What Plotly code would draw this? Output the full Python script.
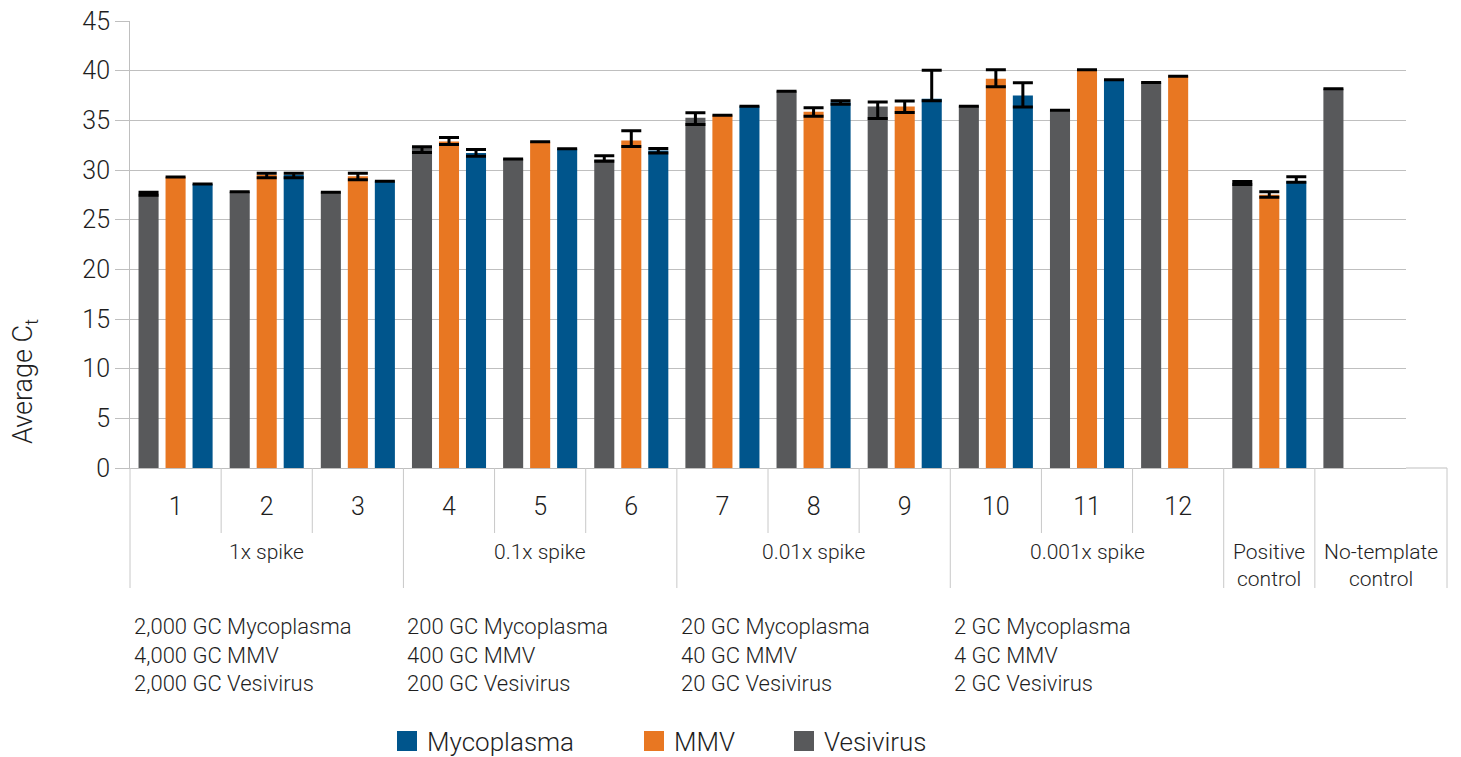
import plotly.graph_objects as go

# ---------------- data ----------------
categories = ["1", "2", "3", "4", "5", "6", "7", "8", "9", "10", "11", "12",
              "Positive control", "No-template control"]
tick_text = ["1", "2", "3", "4", "5", "6", "7", "8", "9", "10", "11", "12"]

group_labels = ["1x spike", "0.1x spike", "0.01x spike", "0.001x spike",
                "Positive<br>control", "No-template<br>control"]
group_first = [0, 3, 6, 9, 12, 13]
group_last = [2, 5, 8, 11, 12, 13]

spike_notes = [
    "2,000 GC Mycoplasma<br>4,000 GC MMV<br>2,000 GC Vesivirus",
    "200 GC Mycoplasma<br>400 GC MMV<br>200 GC Vesivirus",
    "20 GC Mycoplasma<br>40 GC MMV<br>20 GC Vesivirus",
    "2 GC Mycoplasma<br>4 GC MMV<br>2 GC Vesivirus",
]

y_ticks = [0, 5, 10, 15, 20, 25, 30, 35, 40, 45]

vesivirus = [27.6, 27.8, 27.75, 32.3, 31.1, 31.07, 35.27, 37.93, 36.4, 36.42, 36.02, 38.8, 28.7, 38.19]
vesivirus_plus = [0.15, 0, 0, 0.05, 0, 0.37, 0.5, 0, 0.45, 0, 0, 0, 0.15, 0]
vesivirus_minus = [0.15, 0, 0, 0.55, 0, 0.2, 0.7, 0, 1.22, 0, 0, 0, 0.15, 0]

mmv = [29.3, 29.53, 29.36, 32.88, 32.85, 32.98, 35.52, 35.87, 36.4, 39.19, 40.1, 39.45, 27.51, None]
mmv_plus = [0, 0.15, 0.32, 0.39, 0, 0.96, 0, 0.4, 0.55, 0.91, 0, 0, 0.3, None]
mmv_minus = [0, 0.3, 0.33, 0.31, 0, 0.61, 0, 0.45, 0.61, 0.82, 0, 0, 0.25, None]

mycoplasma = [28.6, 29.53, 28.87, 31.71, 32.15, 31.97, 36.42, 36.83, 37.18, 37.51, 39.09, None, 28.87, None]
mycoplasma_plus = [0, 0.15, 0, 0.36, 0, 0.2, 0, 0.15, 2.87, 1.28, 0, None, 0.45, None]
mycoplasma_minus = [0, 0.3, 0, 0.32, 0, 0.25, 0, 0.2, 0.2, 1.16, 0, None, 0.1, None]

# ---------------- layout helpers ----------------
# the page body has an 8px margin, so the figure is placed 8px right/down
OFF = 8
W, H = 1461 - OFF, 757 - OFF
ML, MT = 130 - OFF, 21 - OFF
PW, PH = 1276, 447
MR, MB = W - ML - PW, H - MT - PH
FONT = "Roboto, Liberation Sans, Arial, sans-serif"
FW = 300
TXT = "#1e1e1e"
GRID = "#BFBFBF"
SEP = "#C8C8C8"

C_GRAY, C_ORANGE, C_BLUE = "#58595B", "#E87722", "#00558C"


def px_x(x):  # screen px -> paper
    return (x - OFF - ML) / PW


def px_y(y):
    return (MT + PH - (y - OFF)) / PH


n = len(categories)


def boundary(k):  # paper x of boundary before category k
    return k / n


box_right = px_x(1447)


def fnt(size):
    return dict(size=size, color=TXT, family=FONT, weight=FW)


fig = go.Figure()


def add_series(name, vals, plus, minus, color, legend):
    fig.add_trace(go.Bar(
        name=name, x=categories, y=vals, marker=dict(color=color, line=dict(width=0)),
        showlegend=False, legendgroup=name,
        error_y=dict(type="data", symmetric=False, array=plus, arrayminus=minus,
                     color="#000000", thickness=3, width=10),
    ))
    # legend key (square swatch like the reference)
    fig.add_trace(go.Scatter(
        name=name, x=[None], y=[None], mode="markers", legend=legend, legendgroup=name,
        marker=dict(symbol="square", size=16, color=color, line=dict(color=color, width=4)),
        hoverinfo="skip",
    ))


add_series("Vesivirus", vesivirus, vesivirus_plus, vesivirus_minus, C_GRAY, "legend3")
add_series("MMV", mmv, mmv_plus, mmv_minus, C_ORANGE, "legend2")
add_series("Mycoplasma", mycoplasma, mycoplasma_plus, mycoplasma_minus, C_BLUE, "legend")

shapes = []
shapes.append(dict(type="line", xref="paper", yref="paper", x0=1, x1=box_right, y0=0, y1=0,
                   line=dict(color=GRID, width=1)))
short_k = [1, 2, 4, 5, 7, 8, 10, 11]
long_k = [0, 3, 6, 9, 12, 13]
for k in short_k:
    shapes.append(dict(type="line", xref="paper", yref="paper", x0=boundary(k), x1=boundary(k),
                       y0=0, y1=px_y(533), line=dict(color=SEP, width=1)))
for k in long_k:
    shapes.append(dict(type="line", xref="paper", yref="paper", x0=boundary(k), x1=boundary(k),
                       y0=0, y1=px_y(588), line=dict(color=SEP, width=1)))
shapes.append(dict(type="line", xref="paper", yref="paper", x0=box_right, x1=box_right,
                   y0=0, y1=px_y(588), line=dict(color=SEP, width=1)))

annotations = []
for lab, a, b in zip(group_labels, group_first, group_last):
    x0 = boundary(a)
    x1 = boundary(b + 1) if b + 1 < n else box_right
    annotations.append(dict(text=lab, xref="paper", yref="paper", x=(x0 + x1) / 2, y=px_y(538),
                            xanchor="center", yanchor="top", showarrow=False, font=fnt(21)))
for note, a in zip(spike_notes, group_first[:4]):
    annotations.append(dict(text=note, xref="paper", yref="paper", x=boundary(a), xshift=2,
                            y=px_y(655), xanchor="left", yanchor="middle", align="left",
                            showarrow=False, font=fnt(22)))
annotations.append(dict(text="Average C<sub>t</sub>", xref="paper", yref="paper",
                        x=px_x(25), y=px_y(382), textangle=-90, showarrow=False,
                        xanchor="center", yanchor="middle", font=fnt(27)))


def leg(xpx):
    return dict(x=px_x(xpx), y=px_y(741), xanchor="left", yanchor="middle",
                orientation="h", bgcolor="rgba(0,0,0,0)", font=fnt(26),
                itemsizing="trace")


fig.update_layout(
    width=W, height=H,
    margin=dict(l=ML, r=MR, t=MT, b=MB, autoexpand=False),
    paper_bgcolor="white", plot_bgcolor="white",
    barmode="group", bargap=0.111, bargroupgap=0.257,
    font=dict(family=FONT, color=TXT, weight=FW),
    showlegend=True,
    legend=leg(387), legend2=leg(634), legend3=leg(784),
    xaxis=dict(type="category", range=[-0.5, n - 0.5], tickmode="array",
               tickvals=categories[:len(tick_text)], ticktext=tick_text, ticks="",
               showline=True, linecolor=GRID, linewidth=1, showgrid=False,
               tickfont=fnt(25), ticklabelstandoff=16),
    yaxis=dict(range=[0, 45.001], tickmode="array", tickvals=y_ticks,
               showgrid=True, gridcolor=GRID, gridwidth=1,
               zeroline=False, showline=True, linecolor=GRID, linewidth=1,
               ticks="outside", ticklen=14, tickcolor=GRID, tickwidth=1,
               ticklabeloverflow="allow", tickfont=fnt(25)),
    shapes=shapes, annotations=annotations,
)

fig.write_html("out.html", config={"displayModeBar": False})
